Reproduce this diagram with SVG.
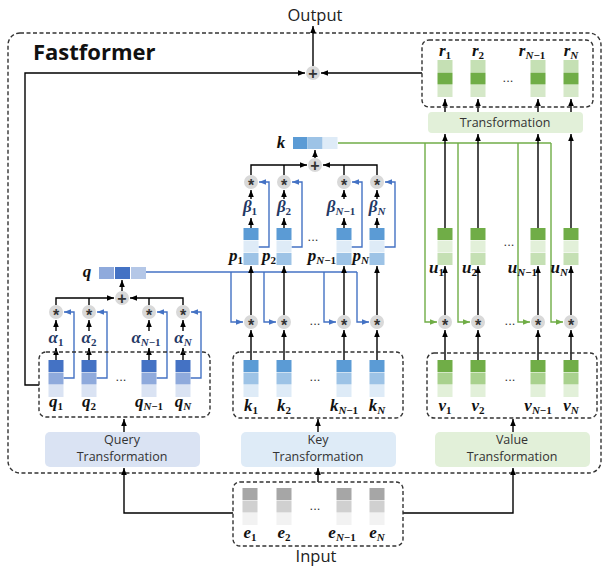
<svg xmlns="http://www.w3.org/2000/svg" width="605" height="567" viewBox="0 0 605 567">
<style>
.k{stroke:#000;stroke-width:1.4;fill:none}
.kb{stroke:#000;stroke-width:1.4;fill:none;marker-end:url(#ak)}
.b{stroke:#4472C4;stroke-width:1.4;fill:none}
.bl{stroke:#4472C4;stroke-width:1.4;fill:none;marker-end:url(#ab)}
.g{stroke:#70AD47;stroke-width:1.4;fill:none}
.gr{stroke:#70AD47;stroke-width:1.4;fill:none;marker-end:url(#ag)}
.dash{fill:none;stroke:#333;stroke-width:1.4;stroke-dasharray:4 2.5}
.op{fill:#D9D9D9}
.opt{font-family:"Liberation Sans",sans-serif;font-size:16px;font-weight:bold;fill:#333;text-anchor:middle}
.m{font-family:"Liberation Serif",serif;font-style:italic;font-weight:bold;font-size:17px;fill:#111;text-anchor:middle}
.gk{fill:#1F3864}
.e{text-anchor:end}
.s{font-size:11px;font-style:normal}
.si{font-style:italic}
.t{font-family:"Open Sans",sans-serif;font-size:12.5px;fill:#333;text-anchor:middle}
.big{font-family:"Open Sans",sans-serif;font-size:16.5px;fill:#222;text-anchor:middle}
.dots{font-family:"Liberation Sans",sans-serif;font-size:13px;fill:#333;text-anchor:middle}
</style>
<defs>
<marker id="ak" markerUnits="userSpaceOnUse" markerWidth="7" markerHeight="7" viewBox="0 0 10 10" refX="10" refY="5" orient="auto"><path d="M0,1L10,5L0,9z" fill="#000"/></marker>
<marker id="ab" markerUnits="userSpaceOnUse" markerWidth="7" markerHeight="7" viewBox="0 0 10 10" refX="10" refY="5" orient="auto"><path d="M0,1L10,5L0,9z" fill="#4472C4"/></marker>
<marker id="ag" markerUnits="userSpaceOnUse" markerWidth="7" markerHeight="7" viewBox="0 0 10 10" refX="10" refY="5" orient="auto"><path d="M0,1L10,5L0,9z" fill="#70AD47"/></marker>
<g id="vQ"><rect width="15" height="12" fill="#4472C4"/><rect y="12.5" width="15" height="12" fill="#8FAADC"/><rect y="25" width="15" height="12" fill="#DAE3F3"/></g>
<g id="vK"><rect width="15" height="12" fill="#5B9BD5"/><rect y="12.5" width="15" height="12" fill="#9DC3E6"/><rect y="25" width="15" height="12" fill="#DEEBF7"/></g>
<g id="vP"><rect width="15" height="12" fill="#5B9BD5"/><rect y="12.5" width="15" height="12" fill="#DEEBF7"/><rect y="25" width="15" height="12" fill="#9DC3E6"/></g>
<g id="vV"><rect width="15" height="12" fill="#70AD47"/><rect y="12.5" width="15" height="12" fill="#A9D18E"/><rect y="25" width="15" height="12" fill="#E2F0D9"/></g>
<g id="vU"><rect width="15" height="12" fill="#70AD47"/><rect y="12.5" width="15" height="12" fill="#E2F0D9"/><rect y="25" width="15" height="12" fill="#C5E0B4"/></g>
<g id="vR"><rect width="15" height="12" fill="#C5E0B4"/><rect y="12.5" width="15" height="12" fill="#70AD47"/><rect y="25" width="15" height="12" fill="#D5E8C8"/></g>
<g id="vE"><rect width="15" height="12" fill="#A6A6A6"/><rect y="12.5" width="15" height="12" fill="#D0D0D0"/><rect y="25" width="15" height="12" fill="#F2F2F2"/></g>
</defs>
<rect width="605" height="567" fill="#fff"/>

<g id="fastformer">
<rect class="dash" x="8" y="33" width="593" height="440" rx="12"/>
<text x="33" y="60" font-family="'Open Sans',sans-serif" font-size="22" font-weight="bold" fill="#111">Fastformer</text>
</g>
<text class="big" x="315" y="21">Output</text>
<text class="big" x="316" y="562">Input</text>

<g id="connectors">
<path class="kb" d="M56,360V348"/><path class="kb" d="M89,360V348"/><path class="kb" d="M149,360V348"/><path class="kb" d="M183,360V348"/>
<path class="kb" d="M56,331V320"/><path class="kb" d="M89,331V320"/><path class="kb" d="M149,331V320"/><path class="kb" d="M183,331V320"/>
<path class="bl" d="M63.5,378H74V312H64"/><path class="bl" d="M96.5,378H107V312H97"/><path class="bl" d="M156.5,378H167V312H157"/><path class="bl" d="M190.5,378H201V312H191"/>
<path class="k" d="M89,305V298"/><path class="k" d="M149,305V298"/>
<path class="kb" d="M56,305V298H114"/><path class="kb" d="M183,305V298H130"/>
<path class="kb" d="M122,291V280"/>
<path class="b" d="M146,272H357"/>
<path class="bl" d="M231,272V322H243"/><path class="bl" d="M264,272V322H276"/><path class="bl" d="M324,272V322H336"/><path class="bl" d="M357,272V322H369"/>
<path class="kb" d="M251,360V330"/><path class="kb" d="M284,360V330"/><path class="kb" d="M344,360V330"/><path class="kb" d="M377,360V330"/>
<path class="kb" d="M251,315V266"/><path class="kb" d="M284,315V266"/><path class="kb" d="M344,315V266"/><path class="kb" d="M377,315V266"/>
<path class="kb" d="M251,228V218"/><path class="kb" d="M284,228V218"/><path class="kb" d="M344,228V218"/><path class="kb" d="M377,228V218"/>
<path class="kb" d="M251,199V190"/><path class="kb" d="M284,199V190"/><path class="kb" d="M344,199V190"/><path class="kb" d="M377,199V190"/>
<path class="bl" d="M258.5,247H269V182H259"/><path class="bl" d="M291.5,247H302V182H292"/><path class="bl" d="M351.5,247H362V182H352"/><path class="bl" d="M384.5,247H395V182H385"/>
<path class="k" d="M284,175V165"/><path class="k" d="M344,175V165"/>
<path class="kb" d="M251,175V165H307"/><path class="kb" d="M377,175V165H323"/>
<path class="kb" d="M315,158V150"/>
<path class="g" d="M338,143H551"/>
<path class="gr" d="M425,143V322H437"/><path class="gr" d="M458,143V322H470"/><path class="gr" d="M518,143V322H530"/><path class="gr" d="M551,143V322H563"/>
<path class="kb" d="M445,360V330"/><path class="kb" d="M478,360V330"/><path class="kb" d="M538,360V330"/><path class="kb" d="M571,360V330"/>
<path class="kb" d="M445,315V266"/><path class="kb" d="M478,315V266"/><path class="kb" d="M538,315V266"/><path class="kb" d="M571,315V266"/>
<path class="kb" d="M445,228V134"/><path class="kb" d="M478,228V134"/><path class="kb" d="M538,228V134"/><path class="kb" d="M571,228V134"/>
<path class="kb" d="M445,112V99"/><path class="kb" d="M478,112V99"/><path class="kb" d="M538,112V99"/><path class="kb" d="M571,112V99"/>
<path class="kb" d="M422,73H321"/>
<path class="kb" d="M39,385H25V73H305"/>
<path class="kb" d="M313,66V26"/>
<path class="kb" d="M124,432V419"/><path class="kb" d="M318,432V419"/><path class="kb" d="M513,432V419"/>
<path class="kb" d="M233,513H124V468"/><path class="kb" d="M403,513H513V468"/><path class="kb" d="M318,482V468"/>
</g>

<g id="query-transformation"><rect x="45" y="432" width="155" height="35" rx="5" fill="#DAE3F3"/><text class="t" x="122" y="444">Query</text><text class="t" x="122" y="461">Transformation</text></g>
<g id="query-box">
<rect class="dash" x="39" y="352" width="171" height="65" rx="7"/>
<use href="#vQ" x="48.5" y="360"/><use href="#vQ" x="81.5" y="360"/><use href="#vQ" x="141.5" y="360"/><use href="#vQ" x="175.5" y="360"/>
<text class="dots" x="121" y="381">...</text>
<text class="m" x="56" y="407">q<tspan class="s" dy="3">1</tspan></text>
<text class="m" x="89" y="407">q<tspan class="s" dy="3">2</tspan></text>
<text class="m" x="149" y="407">q<tspan class="s" dy="3"><tspan class="si">N</tspan>−1</tspan></text>
<text class="m" x="183" y="407">q<tspan class="s si" dy="3">N</tspan></text>
</g>
<g id="alpha">
<text class="m gk" x="56" y="343">α<tspan class="s" dy="3">1</tspan></text>
<text class="m gk" x="89" y="343">α<tspan class="s" dy="3">2</tspan></text>
<text class="m gk" x="146" y="343">α<tspan class="s" dy="3"><tspan class="si">N</tspan>−1</tspan></text>
<text class="m gk" x="183" y="343">α<tspan class="s si" dy="3">N</tspan></text>
</g>
<g id="query-mult">
<circle class="op" cx="56" cy="312" r="7"/><text class="opt" x="56" y="321">*</text>
<circle class="op" cx="89" cy="312" r="7"/><text class="opt" x="89" y="321">*</text>
<circle class="op" cx="149" cy="312" r="7"/><text class="opt" x="149" y="321">*</text>
<circle class="op" cx="183" cy="312" r="7"/><text class="opt" x="183" y="321">*</text>
</g>
<g id="query-sum"><circle class="op" cx="122" cy="298" r="7"/><text class="opt" x="122" y="304" fill="#1F3864">+</text></g>
<g id="q-global">
<rect x="99" y="267" width="15" height="12" fill="#8FAADC"/><rect x="115" y="267" width="15" height="12" fill="#4472C4"/><rect x="131" y="267" width="15" height="12" fill="#B4C7E7"/>
<text class="m" x="87" y="277">q</text>
</g>

<g id="key-transformation"><rect x="241" y="432" width="155" height="35" rx="5" fill="#DEEBF7"/><text class="t" x="318" y="444">Key</text><text class="t" x="318" y="461">Transformation</text></g>
<g id="key-box">
<rect class="dash" x="233" y="352" width="170" height="66" rx="7"/>
<use href="#vK" x="243.5" y="360"/><use href="#vK" x="276.5" y="360"/><use href="#vK" x="336.5" y="360"/><use href="#vK" x="369.5" y="360"/>
<text class="dots" x="315" y="381">...</text>
<text class="m" x="251" y="411">k<tspan class="s" dy="3">1</tspan></text>
<text class="m" x="284" y="411">k<tspan class="s" dy="3">2</tspan></text>
<text class="m" x="344" y="411">k<tspan class="s" dy="3"><tspan class="si">N</tspan>−1</tspan></text>
<text class="m" x="377" y="411">k<tspan class="s si" dy="3">N</tspan></text>
</g>
<g id="key-mult">
<circle class="op" cx="251" cy="322" r="7"/><text class="opt" x="251" y="331">*</text>
<circle class="op" cx="284" cy="322" r="7"/><text class="opt" x="284" y="331">*</text>
<circle class="op" cx="344" cy="322" r="7"/><text class="opt" x="344" y="331">*</text>
<circle class="op" cx="377" cy="322" r="7"/><text class="opt" x="377" y="331">*</text>
<text class="dots" x="315" y="325">...</text>
</g>
<g id="p-vectors">
<use href="#vP" x="243.5" y="228"/><use href="#vP" x="276.5" y="228"/><use href="#vP" x="336.5" y="228"/><use href="#vP" x="369.5" y="228"/>
<text class="dots" x="313" y="241">...</text>
<text class="m e" x="243" y="261">p<tspan class="s" dy="3">1</tspan></text>
<text class="m e" x="276" y="261">p<tspan class="s" dy="3">2</tspan></text>
<text class="m e" x="336" y="261">p<tspan class="s" dy="3"><tspan class="si">N</tspan>−1</tspan></text>
<text class="m e" x="369" y="261">p<tspan class="s si" dy="3">N</tspan></text>
</g>
<g id="beta">
<text class="m gk" x="250" y="212">β<tspan class="s" dy="3">1</tspan></text>
<text class="m gk" x="284" y="212">β<tspan class="s" dy="3">2</tspan></text>
<text class="m gk" x="341" y="212">β<tspan class="s" dy="3"><tspan class="si">N</tspan>−1</tspan></text>
<text class="m gk" x="377" y="212">β<tspan class="s si" dy="3">N</tspan></text>
</g>
<g id="p-mult">
<circle class="op" cx="251" cy="182" r="7"/><text class="opt" x="251" y="191">*</text>
<circle class="op" cx="284" cy="182" r="7"/><text class="opt" x="284" y="191">*</text>
<circle class="op" cx="344" cy="182" r="7"/><text class="opt" x="344" y="191">*</text>
<circle class="op" cx="377" cy="182" r="7"/><text class="opt" x="377" y="191">*</text>
</g>
<g id="key-sum"><circle class="op" cx="315" cy="165" r="7"/><text class="opt" x="315" y="171" fill="#1F3864">+</text></g>
<g id="k-global">
<rect x="293" y="137" width="14.5" height="12" fill="#5B9BD5"/><rect x="308" y="137" width="14.5" height="12" fill="#9DC3E6"/><rect x="323" y="137" width="14.5" height="12" fill="#DEEBF7"/>
<text class="m" x="281" y="148">k</text>
</g>

<g id="value-transformation"><rect x="435" y="432" width="155" height="35" rx="5" fill="#E2F0D9"/><text class="t" x="512" y="444">Value</text><text class="t" x="512" y="461">Transformation</text></g>
<g id="value-box">
<rect class="dash" x="427" y="353" width="170" height="65" rx="7"/>
<use href="#vV" x="437.5" y="360"/><use href="#vV" x="470.5" y="360"/><use href="#vV" x="530.5" y="360"/><use href="#vV" x="563.5" y="360"/>
<text class="dots" x="510" y="381">...</text>
<text class="m" x="445" y="411">v<tspan class="s" dy="3">1</tspan></text>
<text class="m" x="478" y="411">v<tspan class="s" dy="3">2</tspan></text>
<text class="m" x="538" y="411">v<tspan class="s" dy="3"><tspan class="si">N</tspan>−1</tspan></text>
<text class="m" x="571" y="411">v<tspan class="s si" dy="3">N</tspan></text>
</g>
<g id="value-mult">
<circle class="op" cx="445" cy="322" r="7"/><text class="opt" x="445" y="331">*</text>
<circle class="op" cx="478" cy="322" r="7"/><text class="opt" x="478" y="331">*</text>
<circle class="op" cx="538" cy="322" r="7"/><text class="opt" x="538" y="331">*</text>
<circle class="op" cx="571" cy="322" r="7"/><text class="opt" x="571" y="331">*</text>
<text class="dots" x="510" y="325">...</text>
</g>
<g id="u-vectors">
<use href="#vU" x="437.5" y="228"/><use href="#vU" x="470.5" y="228"/><use href="#vU" x="530.5" y="228"/><use href="#vU" x="563.5" y="228"/>
<text class="dots" x="509" y="246">...</text>
<text class="m e" x="444" y="273">u<tspan class="s" dy="3">1</tspan></text>
<text class="m e" x="477" y="273">u<tspan class="s" dy="3">2</tspan></text>
<text class="m e" x="537" y="273">u<tspan class="s" dy="3"><tspan class="si">N</tspan>−1</tspan></text>
<text class="m e" x="568" y="273">u<tspan class="s si" dy="3">N</tspan></text>
</g>
<g id="transformation"><rect x="428" y="112" width="155" height="21" rx="4" fill="#E2F0D9"/><text class="t" x="505" y="127" font-size="13">Transformation</text></g>
<g id="r-box">
<rect class="dash" x="422" y="40" width="171" height="67" rx="7"/>
<use href="#vR" x="437.5" y="60"/><use href="#vR" x="470.5" y="60"/><use href="#vR" x="530.5" y="60"/><use href="#vR" x="563.5" y="60"/>
<text class="dots" x="508" y="82">...</text>
<text class="m" x="445" y="56">r<tspan class="s" dy="3">1</tspan></text>
<text class="m" x="478" y="56">r<tspan class="s" dy="3">2</tspan></text>
<text class="m" x="532" y="56">r<tspan class="s" dy="3"><tspan class="si">N</tspan>−1</tspan></text>
<text class="m" x="571" y="56">r<tspan class="s si" dy="3">N</tspan></text>
</g>
<g id="output-sum"><circle class="op" cx="313" cy="73" r="7"/><text class="opt" x="313" y="79" fill="#1F3864">+</text></g>

<g id="input-box">
<rect class="dash" x="233" y="482" width="170" height="64" rx="7"/>
<use href="#vE" x="242.5" y="488"/><use href="#vE" x="276.5" y="488"/><use href="#vE" x="336.5" y="488"/><use href="#vE" x="369.5" y="488"/>
<text class="dots" x="315" y="510">...</text>
<text class="m" x="250" y="538">e<tspan class="s" dy="3">1</tspan></text>
<text class="m" x="284" y="538">e<tspan class="s" dy="3">2</tspan></text>
<text class="m" x="342" y="538">e<tspan class="s" dy="3"><tspan class="si">N</tspan>−1</tspan></text>
<text class="m" x="377" y="538">e<tspan class="s si" dy="3">N</tspan></text>
</g>
</svg>
